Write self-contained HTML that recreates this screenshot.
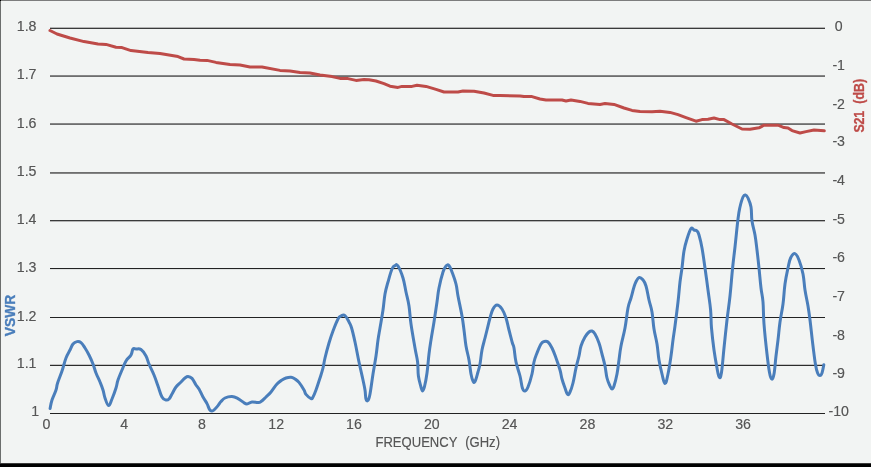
<!DOCTYPE html>
<html><head><meta charset="utf-8"><title>VSWR and S21 vs Frequency</title>
<style>
html,body{margin:0;padding:0;}
body{width:871px;height:467px;overflow:hidden;background:#f2f4f3;position:relative;font-family:"Liberation Sans",Arial,sans-serif;}
#bt{position:absolute;left:0;top:0;width:871px;height:1px;background:#7d7d7d;}
#bl{position:absolute;left:0;top:0;width:1px;height:463px;background:#6c6e6d;}
#bc{position:absolute;left:0;top:0;width:1px;height:1px;background:#000;}
#bb{position:absolute;left:0;top:463px;width:871px;height:4px;background:#000;border-top:1px solid #3c3c3c;box-sizing:border-box;}
svg{position:absolute;left:0;top:0;}
svg text{font-family:"Liberation Sans",Arial,sans-serif;font-size:13.33px;fill:#565656;}
svg .n text{font-size:13.8px;}
</style></head><body>
<div id="bt"></div><div id="bl"></div><div id="bc"></div><div id="bb"></div>
<svg width="871" height="467" viewBox="0 0 871 467">
<defs><filter id="em" x="-5%" y="-20%" width="110%" height="140%" color-interpolation-filters="sRGB"><feComponentTransfer><feFuncA type="gamma" amplitude="1" exponent="0.7" offset="0"/></feComponentTransfer></filter></defs>
<g shape-rendering="crispEdges"><rect x="50" y="27" width="775" height="1" fill="#b4b4b4"/><rect x="50" y="28" width="775" height="1" fill="#3a3a3a"/><rect x="50" y="75" width="775" height="1" fill="#868686"/><rect x="50" y="76" width="775" height="1" fill="#6e6e6e"/><rect x="50" y="123" width="775" height="1" fill="#868686"/><rect x="50" y="124" width="775" height="1" fill="#6e6e6e"/><rect x="50" y="172" width="775" height="1" fill="#6e6e6e"/><rect x="50" y="173" width="775" height="1" fill="#848484"/><rect x="50" y="220" width="775" height="1" fill="#3a3a3a"/><rect x="50" y="221" width="775" height="1" fill="#b4b4b4"/><rect x="50" y="268" width="775" height="1" fill="#222222"/><rect x="50" y="269" width="775" height="1" fill="#e0e2e1"/><rect x="50" y="317" width="775" height="1" fill="#222222"/><rect x="50" y="364" width="775" height="1" fill="#c4c4c4"/><rect x="50" y="365" width="775" height="1" fill="#2c2c2c"/><rect x="50" y="413" width="775" height="1" fill="#222222"/></g>
<path d="M50.0,30.5 L57.0,34.0 L70.0,38.0 L84.0,41.6 L98.0,44.0 L106.0,44.4 L116.0,47.2 L122.0,47.6 L131.0,50.6 L148.0,52.6 L160.0,53.6 L178.0,56.6 L184.0,59.0 L194.0,59.4 L200.0,60.2 L207.0,60.4 L216.0,62.4 L230.0,64.4 L240.0,65.0 L250.0,67.0 L262.0,67.0 L280.0,70.4 L290.0,71.0 L300.0,72.6 L310.0,73.0 L320.0,75.0 L332.0,76.6 L340.0,78.4 L348.0,78.6 L356.0,80.4 L364.0,79.6 L369.0,79.8 L376.0,81.0 L384.0,83.6 L390.0,86.2 L398.0,87.4 L402.0,86.4 L412.0,86.4 L417.0,85.2 L426.0,86.4 L436.0,89.4 L444.0,92.0 L458.0,92.0 L463.0,91.0 L474.0,91.2 L484.0,93.0 L493.0,95.4 L500.0,95.6 L520.0,95.9 L524.0,96.6 L532.0,96.6 L540.0,99.0 L546.0,100.0 L562.0,100.0 L566.0,101.0 L571.0,100.0 L580.0,101.4 L588.0,103.4 L600.0,104.4 L605.0,103.6 L614.0,104.4 L624.0,108.0 L632.0,110.4 L640.0,111.6 L652.0,111.8 L660.0,111.2 L670.0,112.4 L678.0,114.6 L686.0,117.6 L696.0,121.2 L702.0,119.6 L708.0,119.2 L714.0,118.0 L720.0,119.6 L724.0,119.6 L732.0,124.0 L742.0,129.0 L750.0,129.2 L759.0,127.8 L764.0,125.2 L778.0,125.2 L784.0,127.6 L788.0,128.0 L792.0,130.6 L800.0,133.0 L806.0,131.6 L814.0,130.0 L824.3,130.8" fill="none" stroke="#be4b48" stroke-width="3" stroke-linejoin="round" stroke-linecap="round"/>
<path d="M50.1,408.5 C50.5,406.8 50.8,403.7 52.0,400.0 C53.2,396.3 54.9,393.4 56.0,390.0 C57.1,386.6 56.4,386.8 57.6,383.0 C58.8,379.2 60.3,376.0 62.0,371.0 C63.7,366.0 64.4,362.2 66.0,358.0 C67.6,353.8 68.6,352.8 70.0,350.0 C71.4,347.2 71.6,345.7 73.0,344.0 C74.4,342.3 75.4,341.9 77.0,341.6 C78.6,341.3 79.4,341.3 81.0,342.6 C82.6,343.9 83.4,345.5 85.0,348.0 C86.6,350.5 87.4,351.8 89.0,355.0 C90.6,358.2 91.6,360.4 93.0,364.0 C94.4,367.6 94.6,369.4 96.0,373.0 C97.4,376.6 98.6,378.6 100.0,382.0 C101.4,385.4 102.0,386.8 103.0,390.0 C104.0,393.2 103.9,394.9 105.0,398.0 C106.1,401.1 107.2,405.4 108.6,405.6 C110.0,405.8 110.5,402.5 112.0,399.0 C113.5,395.5 114.8,391.8 116.0,388.0 C117.2,384.2 116.8,383.6 118.0,380.0 C119.2,376.4 120.4,373.8 122.0,370.0 C123.6,366.2 124.2,364.0 126.0,361.0 C127.8,358.0 129.6,357.4 131.0,355.0 C132.4,352.6 132.0,350.2 133.0,349.0 C134.0,347.8 134.4,348.9 136.0,349.0 C137.6,349.1 139.0,348.2 141.0,349.6 C143.0,351.0 144.4,353.1 146.0,356.0 C147.6,358.9 147.4,360.2 149.0,364.0 C150.6,367.8 152.2,370.6 154.0,375.0 C155.8,379.4 156.4,381.6 158.0,386.0 C159.6,390.4 160.4,394.2 162.0,397.0 C163.6,399.8 164.6,399.6 166.0,400.0 C167.4,400.4 167.8,400.2 169.0,399.0 C170.2,397.8 170.6,396.4 172.0,394.0 C173.4,391.6 174.2,389.4 176.0,387.0 C177.8,384.6 179.2,383.8 181.0,382.0 C182.8,380.2 183.6,379.1 185.0,378.0 C186.4,376.9 186.6,376.3 188.0,376.4 C189.4,376.5 190.4,376.7 192.0,378.4 C193.6,380.1 194.6,382.9 196.0,385.0 C197.4,387.1 197.6,386.6 199.0,389.0 C200.4,391.4 201.4,394.1 203.0,397.0 C204.6,399.9 205.7,401.1 207.0,403.6 C208.3,406.1 208.6,408.1 209.6,409.6 C210.6,411.1 211.1,410.9 212.0,411.0 C212.9,411.1 212.8,411.1 214.0,410.0 C215.2,408.9 216.6,407.3 218.0,405.6 C219.4,403.9 219.6,403.1 221.0,401.6 C222.4,400.1 222.8,399.0 225.0,398.0 C227.2,397.0 229.4,396.5 232.0,396.6 C234.6,396.7 235.8,397.5 238.0,398.6 C240.2,399.7 241.2,400.9 243.0,402.0 C244.8,403.1 245.2,404.0 247.0,404.0 C248.8,404.0 249.8,402.3 252.0,402.0 C254.2,401.7 256.2,402.7 258.0,402.6 C259.8,402.5 259.4,402.7 261.0,401.6 C262.6,400.5 264.0,398.9 266.0,397.0 C268.0,395.1 268.8,394.6 271.0,392.0 C273.2,389.4 274.8,386.4 277.0,384.0 C279.2,381.6 280.2,381.2 282.0,380.0 C283.8,378.8 284.2,378.6 286.0,378.0 C287.8,377.4 289.2,377.0 291.0,377.2 C292.8,377.4 293.4,378.0 295.0,379.0 C296.6,380.0 297.2,380.2 299.0,382.4 C300.8,384.6 302.6,387.6 304.0,390.0 C305.4,392.4 304.6,392.7 306.0,394.4 C307.4,396.1 309.6,398.1 311.0,398.6 C312.4,399.1 312.0,398.7 313.0,397.0 C314.0,395.3 314.6,393.8 316.0,390.0 C317.4,386.2 318.6,382.4 320.0,378.0 C321.4,373.6 322.0,372.0 323.0,368.0 C324.0,364.0 323.8,363.0 325.0,358.0 C326.2,353.0 327.4,348.4 329.0,343.0 C330.6,337.6 331.2,335.8 333.0,331.0 C334.8,326.2 336.4,322.0 338.0,319.0 C339.6,316.0 339.6,316.7 341.0,316.0 C342.4,315.3 343.4,314.4 345.0,315.6 C346.6,316.8 347.7,319.5 349.0,322.0 C350.3,324.5 350.4,324.0 351.6,328.0 C352.8,332.0 353.5,335.2 355.0,342.0 C356.5,348.8 357.4,354.4 359.0,362.0 C360.6,369.6 361.8,374.4 363.0,380.0 C364.2,385.6 364.4,386.2 365.0,390.0 C365.6,393.8 365.4,396.9 366.0,399.0 C366.6,401.1 367.2,401.4 368.0,400.4 C368.8,399.4 369.0,399.3 370.0,394.0 C371.0,388.7 371.8,381.6 373.0,374.0 C374.2,366.4 375.0,362.8 376.0,356.0 C377.0,349.2 377.2,345.6 378.0,340.0 C378.8,334.4 379.0,334.0 380.0,328.0 C381.0,322.0 382.0,316.8 383.0,310.0 C384.0,303.2 384.0,299.6 385.0,294.0 C386.0,288.4 386.6,287.0 388.0,282.0 C389.4,277.0 390.6,272.3 392.0,269.0 C393.4,265.7 393.8,266.2 395.0,265.6 C396.2,265.0 396.4,263.5 398.0,266.0 C399.6,268.5 401.4,272.8 403.0,278.0 C404.6,283.2 404.8,286.4 406.0,292.0 C407.2,297.6 408.0,299.6 409.0,306.0 C410.0,312.4 409.8,315.6 411.0,324.0 C412.2,332.4 413.7,340.4 415.0,348.0 C416.3,355.6 416.9,356.4 417.6,362.0 C418.3,367.6 417.7,371.0 418.4,376.0 C419.1,381.0 420.2,384.0 421.0,387.0 C421.8,390.0 421.9,391.0 422.6,391.0 C423.3,391.0 423.5,390.6 424.4,387.0 C425.3,383.4 426.1,379.6 427.0,373.0 C427.9,366.4 428.2,360.6 429.0,354.0 C429.8,347.4 430.0,346.4 431.0,340.0 C432.0,333.6 432.8,329.6 434.0,322.0 C435.2,314.4 436.0,308.8 437.0,302.0 C438.0,295.2 437.8,294.0 439.0,288.0 C440.2,282.0 441.6,276.4 443.0,272.0 C444.4,267.6 444.8,267.3 446.0,266.0 C447.2,264.7 447.8,264.4 449.0,265.6 C450.2,266.8 450.6,268.3 452.0,272.0 C453.4,275.7 454.8,279.2 456.0,284.0 C457.2,288.8 456.8,289.6 458.0,296.0 C459.2,302.4 460.8,309.2 462.0,316.0 C463.2,322.8 463.2,324.0 464.0,330.0 C464.8,336.0 465.0,340.0 466.0,346.0 C467.0,352.0 468.0,354.4 469.0,360.0 C470.0,365.6 470.2,369.8 471.0,374.0 C471.8,378.2 472.2,379.5 473.0,381.0 C473.8,382.5 474.0,383.4 475.0,381.6 C476.0,379.8 477.0,375.5 478.0,372.0 C479.0,368.5 479.2,368.4 480.0,364.0 C480.8,359.6 481.0,355.2 482.0,350.0 C483.0,344.8 484.0,342.0 485.0,338.0 C486.0,334.0 486.0,334.0 487.0,330.0 C488.0,326.0 488.8,322.2 490.0,318.0 C491.2,313.8 491.6,311.6 493.0,309.0 C494.4,306.4 495.2,305.0 497.0,305.0 C498.8,305.0 500.2,306.4 502.0,309.0 C503.8,311.6 504.6,313.8 506.0,318.0 C507.4,322.2 507.7,325.0 509.0,330.0 C510.3,335.0 511.4,339.4 512.4,343.0 C513.4,346.6 513.3,344.2 514.0,348.0 C514.7,351.8 514.8,356.4 516.0,362.0 C517.2,367.6 518.7,370.8 520.0,376.0 C521.3,381.2 521.4,385.0 522.4,388.0 C523.4,391.0 523.9,391.2 525.0,391.0 C526.1,390.8 526.6,390.4 528.0,387.0 C529.4,383.6 530.8,379.0 532.0,374.0 C533.2,369.0 533.0,366.2 534.0,362.0 C535.0,357.8 535.6,356.6 537.0,353.0 C538.4,349.4 539.6,346.3 541.0,344.0 C542.4,341.7 542.6,342.0 544.0,341.6 C545.4,341.2 546.4,340.7 548.0,342.0 C549.6,343.3 550.4,344.8 552.0,348.0 C553.6,351.2 554.4,353.6 556.0,358.0 C557.6,362.4 558.8,365.8 560.0,370.0 C561.2,374.2 561.0,375.4 562.0,379.0 C563.0,382.6 563.9,384.9 565.0,388.0 C566.1,391.1 566.6,393.6 567.6,394.4 C568.6,395.2 568.9,394.3 570.0,392.0 C571.1,389.7 571.8,387.8 573.0,383.0 C574.2,378.2 574.8,373.4 576.0,368.0 C577.2,362.6 578.0,360.4 579.0,356.0 C580.0,351.6 579.8,349.8 581.0,346.0 C582.2,342.2 583.4,339.8 585.0,337.0 C586.6,334.2 587.6,333.2 589.0,332.0 C590.4,330.8 590.8,330.6 592.0,331.0 C593.2,331.4 593.6,331.6 595.0,334.0 C596.4,336.4 597.6,339.0 599.0,343.0 C600.4,347.0 600.8,349.4 602.0,354.0 C603.2,358.6 604.0,361.2 605.0,366.0 C606.0,370.8 606.0,374.0 607.0,378.0 C608.0,382.0 609.0,383.8 610.0,386.0 C611.0,388.2 611.2,389.0 612.0,389.0 C612.8,389.0 613.0,389.0 614.0,386.0 C615.0,383.0 616.0,379.2 617.0,374.0 C618.0,368.8 618.2,365.6 619.0,360.0 C619.8,354.4 619.8,352.4 621.0,346.0 C622.2,339.6 623.6,335.6 625.0,328.0 C626.4,320.4 626.8,314.0 628.0,308.0 C629.2,302.0 629.6,302.8 631.0,298.0 C632.4,293.2 633.4,288.1 635.0,284.0 C636.6,279.9 637.4,278.4 639.0,277.6 C640.6,276.8 641.6,278.3 643.0,280.0 C644.4,281.7 644.8,282.0 646.0,286.0 C647.2,290.0 647.8,294.8 649.0,300.0 C650.2,305.2 651.0,306.2 652.0,312.0 C653.0,317.8 653.0,322.6 654.0,329.0 C655.0,335.4 656.0,337.8 657.0,344.0 C658.0,350.2 658.0,354.0 659.0,360.0 C660.0,366.0 660.8,369.3 662.0,374.0 C663.2,378.7 663.8,383.6 665.0,383.6 C666.2,383.6 666.8,379.5 668.0,374.0 C669.2,368.5 670.0,362.8 671.0,356.0 C672.0,349.2 672.2,346.0 673.0,340.0 C673.8,334.0 674.0,333.6 675.0,326.0 C676.0,318.4 677.0,310.8 678.0,302.0 C679.0,293.2 679.2,288.8 680.0,282.0 C680.8,275.2 681.2,274.2 682.0,268.0 C682.8,261.8 683.0,256.8 684.0,251.0 C685.0,245.2 685.6,243.5 687.0,239.0 C688.4,234.5 689.6,230.4 691.0,228.6 C692.4,226.8 692.8,229.5 694.0,230.0 C695.2,230.5 696.0,230.0 697.0,231.0 C698.0,232.0 698.0,231.6 699.0,235.0 C700.0,238.4 700.8,241.4 702.0,248.0 C703.2,254.6 703.8,259.6 705.0,268.0 C706.2,276.4 706.9,281.6 708.0,290.0 C709.1,298.4 709.9,302.4 710.6,310.0 C711.3,317.6 710.8,320.0 711.5,328.0 C712.2,336.0 712.9,342.0 714.0,350.0 C715.1,358.0 716.0,362.6 717.0,368.0 C718.0,373.4 718.3,376.0 719.2,377.0 C720.1,378.0 720.4,378.8 721.4,373.0 C722.4,367.2 722.9,358.6 724.0,348.0 C725.1,337.4 725.8,330.4 727.0,320.0 C728.2,309.6 728.9,306.4 730.0,296.0 C731.1,285.6 731.6,277.8 732.6,268.0 C733.6,258.2 733.9,256.8 735.0,247.0 C736.1,237.2 737.0,227.0 738.0,219.0 C739.0,211.0 739.0,211.4 740.0,207.0 C741.0,202.6 741.9,199.4 743.0,197.0 C744.1,194.6 744.4,194.8 745.4,195.0 C746.4,195.2 746.9,195.6 748.0,198.0 C749.1,200.4 750.2,202.4 751.0,207.0 C751.8,211.6 751.2,215.4 752.0,221.0 C752.8,226.6 754.0,229.2 755.0,235.0 C756.0,240.8 756.2,243.4 757.0,250.0 C757.8,256.6 758.2,260.4 759.0,268.0 C759.8,275.6 760.2,281.2 761.0,288.0 C761.8,294.8 762.4,294.8 763.0,302.0 C763.6,309.2 763.2,313.6 764.0,324.0 C764.8,334.4 765.9,344.4 767.0,354.0 C768.1,363.6 768.5,367.0 769.4,372.0 C770.3,377.0 770.7,378.6 771.6,379.0 C772.5,379.4 773.1,378.6 774.0,374.0 C774.9,369.4 775.2,362.8 776.0,356.0 C776.8,349.2 777.2,346.8 778.0,340.0 C778.8,333.2 779.0,329.2 780.0,322.0 C781.0,314.8 782.0,311.6 783.0,304.0 C784.0,296.4 784.0,291.2 785.0,284.0 C786.0,276.8 786.9,273.2 788.0,268.0 C789.1,262.8 789.2,260.9 790.6,258.0 C792.0,255.1 793.3,253.2 795.0,253.6 C796.7,254.0 797.4,255.9 799.0,260.0 C800.6,264.1 801.8,268.0 803.0,274.0 C804.2,280.0 804.0,283.6 805.0,290.0 C806.0,296.4 807.0,300.0 808.0,306.0 C809.0,312.0 809.0,312.0 810.0,320.0 C811.0,328.0 811.9,337.2 813.0,346.0 C814.1,354.8 814.5,358.6 815.4,364.0 C816.3,369.4 816.7,370.7 817.6,373.0 C818.5,375.3 819.1,375.6 820.0,375.6 C820.9,375.6 821.2,375.2 822.0,373.0 C822.8,370.8 823.4,366.4 823.8,364.8" fill="none" stroke="#4a7ebb" stroke-width="3" stroke-linejoin="round" stroke-linecap="round"/>
<g class="n" filter="url(#em)"><text transform="translate(36.5,31) scale(1.03,1)" text-anchor="end">1.8</text><text transform="translate(36.5,79) scale(1.03,1)" text-anchor="end">1.7</text><text transform="translate(36.5,128) scale(1.03,1)" text-anchor="end">1.6</text><text transform="translate(36.5,176) scale(1.03,1)" text-anchor="end">1.5</text><text transform="translate(36.5,224) scale(1.03,1)" text-anchor="end">1.4</text><text transform="translate(36.5,272) scale(1.03,1)" text-anchor="end">1.3</text><text transform="translate(36.5,321) scale(1.03,1)" text-anchor="end">1.2</text><text transform="translate(36.5,368) scale(1.03,1)" text-anchor="end">1.1</text><text transform="translate(39.1,416) scale(1.03,1)" text-anchor="end">1</text></g>
<g class="n" filter="url(#em)"><text transform="translate(838.7,31) scale(1.03,1)" text-anchor="middle">0</text><text transform="translate(838.7,70) scale(1.03,1)" text-anchor="middle">-1</text><text transform="translate(838.7,109) scale(1.03,1)" text-anchor="middle">-2</text><text transform="translate(838.7,146) scale(1.03,1)" text-anchor="middle">-3</text><text transform="translate(838.7,185) scale(1.03,1)" text-anchor="middle">-4</text><text transform="translate(838.7,224) scale(1.03,1)" text-anchor="middle">-5</text><text transform="translate(838.7,262) scale(1.03,1)" text-anchor="middle">-6</text><text transform="translate(838.7,301) scale(1.03,1)" text-anchor="middle">-7</text><text transform="translate(838.7,340) scale(1.03,1)" text-anchor="middle">-8</text><text transform="translate(838.7,378) scale(1.03,1)" text-anchor="middle">-9</text><text transform="translate(838.7,416) scale(1.03,1)" text-anchor="middle">-10</text></g>
<g class="n" filter="url(#em)"><text transform="translate(50.3,429) scale(1.03,1)" text-anchor="end">0</text><text transform="translate(128.1,429) scale(1.03,1)" text-anchor="end">4</text><text transform="translate(205.9,429) scale(1.03,1)" text-anchor="end">8</text><text transform="translate(284.1,429) scale(1.03,1)" text-anchor="end">12</text><text transform="translate(361.9,429) scale(1.03,1)" text-anchor="end">16</text><text transform="translate(439.7,429) scale(1.03,1)" text-anchor="end">20</text><text transform="translate(517.5,429) scale(1.03,1)" text-anchor="end">24</text><text transform="translate(595.3,429) scale(1.03,1)" text-anchor="end">28</text><text transform="translate(673.2,429) scale(1.03,1)" text-anchor="end">32</text><text transform="translate(751.0,429) scale(1.03,1)" text-anchor="end">36</text></g>
<text transform="translate(375.4,447) scale(0.902,1)" xml:space="preserve" style="white-space:pre;font-size:14.5px" filter="url(#em)">FREQUENCY<tspan dx="0.5">  (GHz)</tspan></text>
<text transform="translate(15,315.4) rotate(-90) scale(1.04,1.09)" text-anchor="middle" style="font-weight:bold;fill:#4a7ebb;stroke:#4a7ebb;stroke-width:0.3px">VSWR</text>
<text transform="translate(864,132.4) rotate(-90) scale(0.93,1.09)" xml:space="preserve" style="font-weight:bold;fill:#be4b48;white-space:pre;stroke:#be4b48;stroke-width:0.3px"><tspan letter-spacing="-0.3">S21</tspan><tspan dx="0.7">  (dB)</tspan></text>
</svg>
</body></html>
